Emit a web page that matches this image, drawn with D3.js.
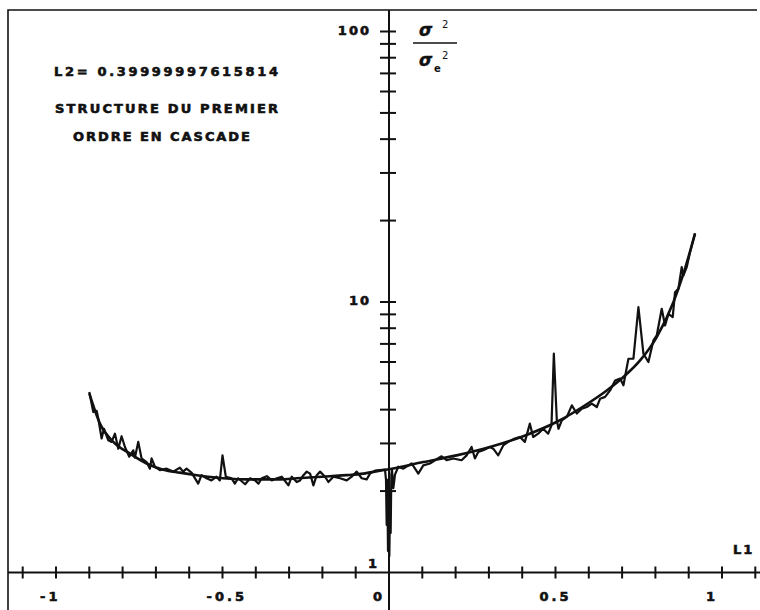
<!DOCTYPE html>
<html>
<head>
<meta charset="utf-8">
<script src="https://cdn.jsdelivr.net/npm/d3@7"></script>
<style>
body { margin: 0; background: #fff; }
svg text { font-family: "DejaVu Sans", sans-serif; font-weight: bold; fill: #111; }
</style>
</head>
<body>
<script>
// ----------------------------------- DATA --------------------------------------------
// theoretical curve (smooth)
var smoothL1 = [-0.900, -0.868, -0.828, -0.778, -0.728, -0.678, -0.628, -0.577, -0.528, -0.477,
	-0.427, -0.377, -0.327, -0.277, -0.227, -0.177, -0.127, -0.077, -0.027, 0.000,
	0.103, 0.203, 0.303, 0.403, 0.503, 0.604, 0.654, 0.704, 0.754, 0.804, 0.854, 0.884, 0.919]
var smoothRatio = [4.59, 3.55, 3.04, 2.75, 2.53, 2.40, 2.34, 2.29, 2.25, 2.22,
	2.21, 2.21, 2.21, 2.23, 2.25, 2.27, 2.29, 2.32, 2.38, 2.41,
	2.56, 2.71, 2.91, 3.19, 3.60, 4.27, 4.71, 5.28, 6.08, 7.42, 9.98, 12.7, 17.9]

// measured curve (noisy)
var measL1 = [-0.900, -0.888, -0.878, -0.873, -0.863, -0.856, -0.843, -0.833, -0.823, -0.813,
	-0.803, -0.793, -0.780, -0.768, -0.763, -0.753, -0.743, -0.728, -0.718, -0.713,
	-0.703, -0.688, -0.668, -0.648, -0.628, -0.618, -0.608, -0.593, -0.573, -0.563,
	-0.548, -0.533, -0.518, -0.508, -0.500, -0.490, -0.473, -0.463, -0.453, -0.432,
	-0.417, -0.402, -0.392, -0.382, -0.367, -0.352, -0.337, -0.322, -0.302, -0.292,
	-0.277, -0.267, -0.257, -0.247, -0.237, -0.227, -0.217, -0.207, -0.192, -0.182,
	-0.167, -0.147, -0.127, -0.112, -0.097, -0.082, -0.067, -0.057, -0.042, -0.027,
	-0.012, -0.009, -0.007, -0.005, -0.003, -0.001, 0.001, 0.003, 0.005, 0.007,
	0.009, 0.013, 0.018,
	0.028, 0.043, 0.068, 0.088, 0.103, 0.123, 0.138, 0.158, 0.173, 0.193,
	0.218, 0.233, 0.248, 0.258, 0.268, 0.283, 0.303, 0.313, 0.328, 0.343,
	0.358, 0.378, 0.393, 0.408, 0.423, 0.433, 0.448, 0.463, 0.478, 0.488,
	0.495, 0.504, 0.509, 0.519, 0.534, 0.549, 0.564, 0.579, 0.594, 0.609,
	0.624, 0.634, 0.649, 0.664, 0.679, 0.694, 0.704, 0.719, 0.734, 0.749,
	0.764, 0.779, 0.794, 0.804, 0.819, 0.829, 0.839, 0.852, 0.859, 0.869,
	0.879, 0.884, 0.894, 0.904, 0.919]
var measRatio = [4.65, 3.92, 3.96, 3.71, 3.13, 3.40, 3.08, 3.04, 3.26, 2.87,
	3.19, 2.91, 2.68, 2.83, 2.66, 3.04, 2.64, 2.56, 2.42, 2.64,
	2.46, 2.39, 2.42, 2.36, 2.44, 2.36, 2.42, 2.34, 2.13, 2.29,
	2.23, 2.19, 2.26, 2.19, 2.71, 2.26, 2.23, 2.13, 2.23, 2.12,
	2.23, 2.19, 2.13, 2.23, 2.27, 2.19, 2.23, 2.26, 2.10, 2.26,
	2.16, 2.19, 2.29, 2.36, 2.32, 2.10, 2.29, 2.36, 2.26, 2.16,
	2.26, 2.23, 2.19, 2.26, 2.36, 2.23, 2.21, 2.32, 2.38, 2.39,
	2.40, 2.20, 1.50, 2.20, 1.20, 2.00, 1.15, 1.80, 1.40, 2.30,
	2.40, 2.05, 2.30,
	2.46, 2.42, 2.53, 2.32, 2.49, 2.53, 2.60, 2.69, 2.60, 2.64,
	2.60, 2.71, 2.91, 2.64, 2.79, 2.83, 2.91, 2.87, 2.71, 2.95,
	3.04, 3.13, 3.17, 3.04, 3.55, 3.17, 3.26, 3.40, 3.26, 3.50,
	6.44, 3.65, 3.40, 3.65, 3.76, 4.15, 3.87, 4.03, 4.09, 4.21,
	4.09, 4.39, 4.46, 4.71, 5.13, 5.21, 4.92, 6.17, 6.17, 9.57,
	6.44, 6.00, 7.21, 7.52, 9.44, 8.19, 9.04, 8.79, 10.87, 11.18,
	13.45, 12.53, 13.45, 15.27, 17.95]

// axes
var xTicks = [-1.1, -1, -0.9, -0.8, -0.7, -0.6, -0.5, -0.4, -0.3, -0.2, -0.1,
	0.1, 0.2, 0.3, 0.4, 0.5, 0.6, 0.7, 0.8, 0.9, 1, 1.1]
var xLabels = [-1, -0.5, 0, 0.5, 1]
var xLabelText = ['-1', '-0.5', '0', '0.5', '1']
var yTicks = [2, 3, 4, 5, 6, 7, 8, 9, 10, 20, 30, 40, 50, 60, 70, 80, 90, 100]
var yLabels = [1, 10, 100]
var yLabelText = ['1', '10', '100']

var captionL2 = 'L2= 0.39999997615814'
var captionLines = ['STRUCTURE DU PREMIER', 'ORDRE EN CASCADE']

// ----------------------------------- SVG --------------------------------------------
var width = 760
var height = 610

var svg = d3.select('body')
	.append('svg')
	.attr('width', width)
	.attr('height', height)

svg.append('rect')
	.attr('width', '100%')
	.attr('height', '100%')
	.attr('fill', '#ffffff')

var x = d3.scaleLinear().domain([-1, 1]).range([56, 722])
var y = d3.scaleLog().domain([1, 100]).range([572.5, 31.5])

var ink = '#111'

// ----------------------------------- FRAME --------------------------------------------
svg.append('path')
	.attr('d', 'M8,610 L8,10 L757,10')
	.attr('fill', 'none')
	.attr('stroke', ink)
	.attr('stroke-width', 1.6)

// ----------------------------------- AXES --------------------------------------------
var x0 = x(0)
var y1 = y(1)

svg.append('line')
	.attr('x1', 8).attr('x2', 760)
	.attr('y1', y1).attr('y2', y1)
	.attr('stroke', ink).attr('stroke-width', 2)

svg.append('line')
	.attr('x1', x0).attr('x2', x0)
	.attr('y1', 10).attr('y2', 610)
	.attr('stroke', ink).attr('stroke-width', 2)

svg.selectAll('.xtick')
	.data(xTicks)
	.enter()
	.append('line')
	.attr('class', 'xtick')
	.attr('x1', d => x(d)).attr('x2', d => x(d))
	.attr('y1', y1 - 6).attr('y2', y1 + 6)
	.attr('stroke', ink).attr('stroke-width', 2)

svg.selectAll('.ytick')
	.data(yTicks)
	.enter()
	.append('line')
	.attr('class', 'ytick')
	.attr('x1', x0 - 9).attr('x2', x0 + 7)
	.attr('y1', d => y(d)).attr('y2', d => y(d))
	.attr('stroke', ink).attr('stroke-width', 2)

// plotter lettering: bold with a thin outline so it looks pen drawn
function pen(sel) {
	sel.attr('font-size', 13)
		.attr('stroke', ink)
		.attr('stroke-width', 0.6)
}

// tick labels: plotter writes them starting a little left of the tick
svg.selectAll('.xlabel')
	.data(xLabels)
	.enter()
	.append('text')
	.attr('class', 'xlabel')
	.attr('x', d => x(d) - 16)
	.attr('y', 601)
	.style('letter-spacing', '3px')
	.call(pen)
	.text((d, i) => xLabelText[i])

svg.selectAll('.ylabel')
	.data(yLabels)
	.enter()
	.append('text')
	.attr('class', 'ylabel')
	.attr('x', d => d === 1 ? x0 - 10 : x0 - 18)
	.attr('y', d => d === 1 ? y(d) - 5 : y(d) + 3)
	.attr('text-anchor', 'end')
	.style('letter-spacing', '2px')
	.call(pen)
	.text((d, i) => yLabelText[i])

// axis names
svg.append('text')
	.attr('x', 733).attr('y', 554)
	.style('letter-spacing', '2px')
	.call(pen)
	.text('L1')

var frac = svg.append('g').attr('font-family', '"DejaVu Serif", serif')
frac.append('text').attr('x', 419).attr('y', 36).attr('font-size', 17).attr('font-style', 'italic').attr('stroke', ink).attr('stroke-width', 0.5).text('σ')
frac.append('text').attr('x', 442).attr('y', 28).attr('font-size', 10).style('font-weight', 'normal').text('2')
frac.append('line').attr('x1', 413).attr('x2', 457).attr('y1', 43).attr('y2', 43).attr('stroke', ink).attr('stroke-width', 1.5)
frac.append('text').attr('x', 419).attr('y', 66).attr('font-size', 17).attr('font-style', 'italic').attr('stroke', ink).attr('stroke-width', 0.5).text('σ')
frac.append('text').attr('x', 434).attr('y', 72).attr('font-size', 10).text('e')
frac.append('text').attr('x', 442).attr('y', 59).attr('font-size', 10).style('font-weight', 'normal').text('2')

// ----------------------------------- CAPTIONS --------------------------------------------
svg.append('text')
	.attr('x', 54).attr('y', 76)
	.attr('textLength', 224).attr('lengthAdjust', 'spacing')
	.call(pen)
	.text(captionL2)

svg.selectAll('.caption')
	.data(captionLines)
	.enter()
	.append('text')
	.attr('class', 'caption')
	.attr('x', (d, i) => i === 0 ? 55 : 73)
	.attr('y', (d, i) => i === 0 ? 113 : 141)
	.attr('textLength', (d, i) => i === 0 ? 223 : 177)
	.attr('lengthAdjust', 'spacing')
	.call(pen)
	.text(d => d)

// ----------------------------------- CURVES --------------------------------------------
var smooth = d3.zip(smoothL1, smoothRatio)
var meas = d3.zip(measL1, measRatio)

var line = d3.line()
	.x(d => x(d[0]))
	.y(d => y(d[1]))

svg.append('path')
	.datum(smooth)
	.attr('d', line.curve(d3.curveMonotoneX))
	.attr('fill', 'none')
	.attr('stroke', ink)
	.attr('stroke-width', 2.6)
	.attr('stroke-linejoin', 'round')

svg.append('path')
	.datum(meas)
	.attr('d', line.curve(d3.curveLinear))
	.attr('fill', 'none')
	.attr('stroke', ink)
	.attr('stroke-width', 2.2)
	.attr('stroke-linejoin', 'round')
</script>
</body>
</html>
